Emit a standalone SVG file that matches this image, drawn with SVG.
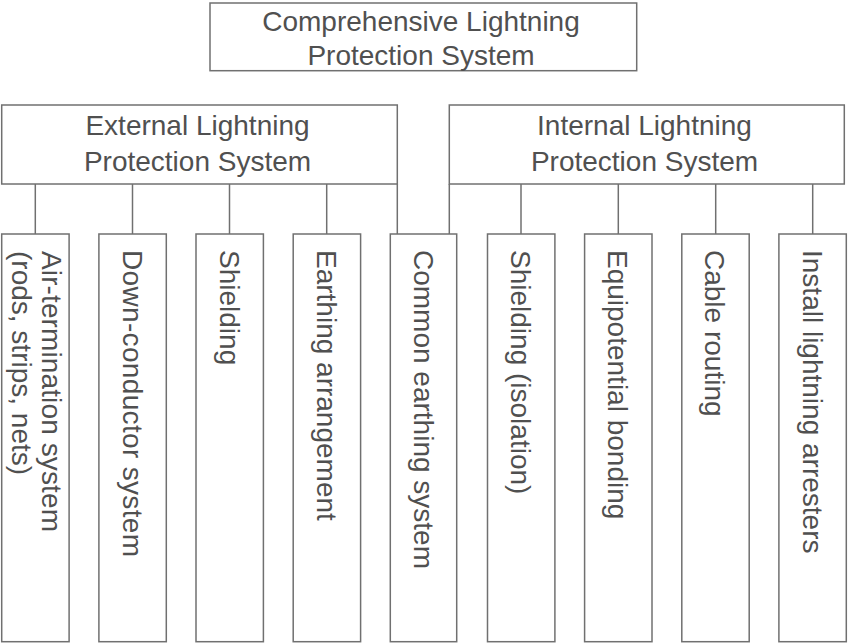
<svg xmlns="http://www.w3.org/2000/svg" width="848" height="643" viewBox="0 0 848 643">
<style>
.box{fill:#ffffff;stroke:#707070;stroke-width:1.5}
.ln{stroke:#707070;stroke-width:1.5;fill:none}
.t{font-family:"Liberation Sans",Arial,sans-serif;font-size:28px;fill:#505050}
.c{text-anchor:middle}
</style>
<rect x="0" y="0" width="848" height="643" fill="#ffffff"/>
<g id="connectors">
<line class="ln" x1="35.3" y1="184" x2="35.3" y2="234"/>
<line class="ln" x1="132.5" y1="184" x2="132.5" y2="234"/>
<line class="ln" x1="229.5" y1="184" x2="229.5" y2="234"/>
<line class="ln" x1="326.7" y1="184" x2="326.7" y2="234"/>
<line class="ln" x1="397.3" y1="184" x2="397.3" y2="234"/>
<line class="ln" x1="449.3" y1="184" x2="449.3" y2="234"/>
<line class="ln" x1="521" y1="184" x2="521" y2="234"/>
<line class="ln" x1="618.3" y1="184" x2="618.3" y2="234"/>
<line class="ln" x1="715.7" y1="184" x2="715.7" y2="234"/>
<line class="ln" x1="812.7" y1="184" x2="812.7" y2="234"/>
</g>
<g id="root">
<rect class="box" x="210" y="3" width="426.7" height="67.7"/>
<text class="t c" x="421" y="31">Comprehensive Lightning</text>
<text class="t c" x="421" y="65">Protection System</text>
</g>
<g id="external">
<rect class="box" x="1.7" y="105" width="395.6" height="79"/>
<text class="t c" x="197.5" y="134.5">External Lightning</text>
<text class="t c" x="197.5" y="171">Protection System</text>
</g>
<g id="internal">
<rect class="box" x="449.3" y="105" width="395" height="79"/>
<text class="t c" x="644.5" y="134.5">Internal Lightning</text>
<text class="t c" x="644.5" y="171">Protection System</text>
</g>
<g id="air-termination">
<rect class="box" x="1.7" y="234" width="67.4" height="407.7"/>
<text class="t" transform="translate(41.5,251) rotate(90)" textLength="281">Air-termination system</text>
<text class="t" transform="translate(12,251) rotate(90)">(rods, strips, nets)</text>
</g>
<g id="down-conductor">
<rect class="box" x="98.9" y="234" width="67.4" height="407.7"/>
<text class="t" transform="translate(122.5,250) rotate(90)" textLength="307">Down-conductor system</text>
</g>
<g id="shielding-ext">
<rect class="box" x="196" y="234" width="67.4" height="407.7"/>
<text class="t" transform="translate(219.6,250) rotate(90)">Shielding</text>
</g>
<g id="earthing-arrangement">
<rect class="box" x="293.2" y="234" width="67.4" height="407.7"/>
<text class="t" transform="translate(316.8,250) rotate(90)">Earthing arrangement</text>
</g>
<g id="common-earthing">
<rect class="box" x="390.3" y="234" width="66.4" height="407.7"/>
<text class="t" transform="translate(413.5,250) rotate(90)">Common earthing system</text>
</g>
<g id="shielding-int">
<rect class="box" x="487.5" y="234" width="67.4" height="407.7"/>
<text class="t" transform="translate(511.1,250) rotate(90)">Shielding (isolation)</text>
</g>
<g id="equipotential">
<rect class="box" x="584.6" y="234" width="67.4" height="407.7"/>
<text class="t" transform="translate(608.2,250) rotate(90)">Equipotential bonding</text>
</g>
<g id="cable-routing">
<rect class="box" x="681.8" y="234" width="67.4" height="407.7"/>
<text class="t" transform="translate(705.4,250) rotate(90)">Cable routing</text>
</g>
<g id="arresters">
<rect class="box" x="778.9" y="234" width="67.4" height="407.7"/>
<text class="t" transform="translate(802.5,250) rotate(90)">Install lightning arresters</text>
</g>
</svg>
